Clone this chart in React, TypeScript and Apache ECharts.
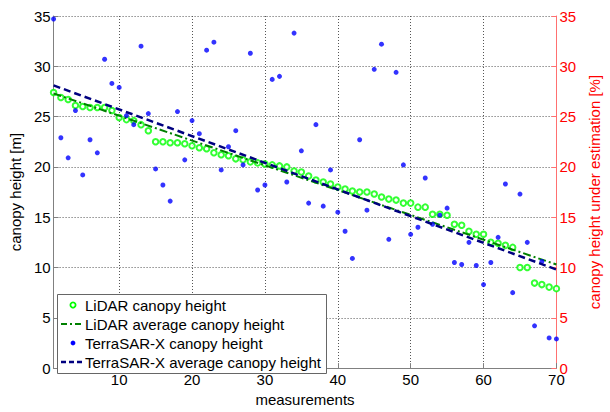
import React, { useEffect, useRef } from "react";
import * as echarts from "echarts";

// LiDAR canopy height per measurement (1..70)
const lidarHeight = [
  27.4, 26.9, 26.7, 26.1, 26.0, 25.9, 25.9, 25.9, 25.6, 24.9,
  24.7, 24.6, 24.2, 23.6, 22.5, 22.5, 22.4, 22.4, 22.3, 22.1,
  21.9, 21.8, 21.4, 21.2, 21.1, 20.8, 20.7, 20.5, 20.4, 20.3,
  20.2, 20.1, 20.0, 19.6, 19.5, 19.1, 18.7, 18.5, 18.3, 18.0,
  17.8, 17.6, 17.5, 17.5, 17.3, 17.0, 16.8, 16.7, 16.4, 16.4,
  16.0, 16.0, 15.3, 15.3, 15.2, 14.3, 14.2, 13.6, 13.3, 13.3,
  12.5, 12.4, 12.2, 12.0, 10.0, 10.0, 8.45, 8.3, 8.05, 7.9,
];

// TerraSAR-X canopy height per measurement (1..70)
const tsxHeight = [
  34.7, 22.9, 20.9, 25.6, 19.2, 22.7, 21.4, 30.7, 28.3, 27.9,
  25.1, 24.2, 32.0, 25.3, 19.8, 18.2, 16.6, 25.5, 20.7, 24.6,
  23.3, 31.6, 32.4, 19.7, 22.0, 23.6, 20.2, 31.3, 17.7, 18.2,
  28.7, 29.0, 18.5, 33.3, 21.6, 16.4, 24.2, 16.1, 19.7, 15.5,
  13.6, 10.9, 22.7, 15.7, 29.7, 32.2, 12.8, 29.4, 20.2, 13.3,
  14.0, 18.9, 14.3, 15.2, 15.9, 10.5, 10.3, 12.5, 10.2, 8.3,
  10.5, 13.0, 18.3, 7.5, 17.3, 12.5, 4.2, 10.6, 3.0, 2.9,
];

// average (fitted) lines: values at first and last measurement
const fitX = [1, 70];
const lidarAvg = [27.3, 10.3];
const tsxAvg = [28.1, 9.8];

const xTicks = [10, 20, 30, 40, 50, 60, 70];

const legendLabels = [
  "LiDAR canopy height",
  "LiDAR average canopy height",
  "TerraSAR-X canopy height",
  "TerraSAR-X average canopy height",
];

const FONT = "Liberation Sans, Arial, sans-serif";

export default function App() {
  const ref = useRef<HTMLDivElement>(null);
  useEffect(() => {
    if (!ref.current) return;
    const chart = echarts.init(ref.current, undefined, { renderer: "svg" });
    const grid = "#555555";
    const axisGray = "#808080";
    const FS = 15;

    // legend drawn with graphic elements
    const lx = 57, ly = 294, lw = 269, lh = 79;
    const rowY = [305, 324, 343, 362];
    const textX = 85;
    const legendGraphic: any[] = [
      {
        type: "rect",
        shape: { x: lx + 0.5, y: ly + 0.5, width: lw, height: lh },
        style: { fill: "#ffffff", stroke: "#666666", lineWidth: 1 },
        z: 100,
      },
      {
        type: "circle",
        shape: { cx: 73, cy: rowY[0], r: 2.6 },
        style: { fill: "#ffffff", stroke: "#00ff00", lineWidth: 1.8 },
        z: 101,
      },
      {
        type: "line",
        shape: { x1: 61, y1: rowY[1], x2: 82, y2: rowY[1] },
        style: { stroke: "#008000", lineWidth: 2, lineDash: [6, 3, 2, 3] },
        z: 101,
      },
      {
        type: "circle",
        shape: { cx: 73, cy: rowY[2], r: 2.4 },
        style: { fill: "#0000ff" },
        z: 101,
      },
      {
        type: "line",
        shape: { x1: 61, y1: rowY[3], x2: 83, y2: rowY[3] },
        style: { stroke: "#000080", lineWidth: 2.5, lineDash: [5, 3] },
        z: 101,
      },
      ...legendLabels.map((t, i) => ({
        type: "text",
        x: textX,
        y: rowY[i],
        style: {
          text: t,
          fill: "#000",
          fontSize: FS,
          fontFamily: FONT,
          verticalAlign: "middle",
          align: "left",
        },
        z: 101,
      })),
    ];

    chart.setOption({
      animation: false,
      backgroundColor: "#ffffff",
      textStyle: { fontFamily: FONT },
      grid: { left: 53, right: 45, top: 16, bottom: 37 },
      graphic: legendGraphic,
      xAxis: {
        type: "value",
        min: 1,
        max: 70,
        name: "measurements",
        nameLocation: "middle",
        nameGap: 20,
        nameTextStyle: { fontSize: FS, color: "#000", fontFamily: FONT },
        axisLine: { lineStyle: { color: axisGray, width: 1 } },
        axisTick: {
          inside: true,
          length: 5,
          lineStyle: { color: axisGray },
          customValues: xTicks,
        },
        axisLabel: {
          fontSize: FS,
          color: "#000",
          margin: 4,
          fontFamily: FONT,
          customValues: xTicks,
        },
        splitLine: {
          show: true,
          lineStyle: { color: grid, type: [1, 2], width: 1 },
        },
      },
      yAxis: [
        {
          type: "value",
          min: 0,
          max: 35,
          interval: 5,
          position: "left",
          name: "canopy height [m]",
          nameLocation: "middle",
          nameGap: 30,
          nameRotate: 90,
          nameTextStyle: { fontSize: FS, color: "#000", fontFamily: FONT },
          axisLine: { show: true, lineStyle: { color: axisGray, width: 1 } },
          axisTick: { show: true, inside: true, length: 5, lineStyle: { color: axisGray } },
          axisLabel: { fontSize: FS, color: "#000", margin: 3, fontFamily: FONT },
          splitLine: {
            show: true,
            lineStyle: { color: grid, type: [1, 2], width: 1 },
          },
        },
        {
          type: "value",
          min: 0,
          max: 35,
          interval: 5,
          position: "right",
          name: "canopy height under estimation [%]",
          nameLocation: "middle",
          nameGap: 25,
          nameRotate: 90,
          nameTextStyle: { fontSize: FS, color: "#ff0000", fontFamily: FONT },
          axisLine: { show: true, lineStyle: { color: "#ff7070", width: 1 } },
          axisTick: { show: true, inside: true, length: 5, lineStyle: { color: "#ff7070" } },
          axisLabel: { fontSize: FS, color: "#ff0000", margin: 3, fontFamily: FONT },
          splitLine: { show: false },
        },
      ],
      series: [
        {
          name: "LiDAR canopy height",
          type: "scatter",
          symbol: "emptyCircle",
          symbolSize: 5.5,
          itemStyle: { color: "#00ff00", borderColor: "#00ff00", borderWidth: 1.8 },
          data: lidarHeight.map((v, i) => [i + 1, v]),
          z: 3,
        },
        {
          name: "LiDAR average canopy height",
          type: "line",
          symbol: "none",
          lineStyle: { color: "#008000", width: 2, type: [8, 3, 2, 3] },
          itemStyle: { color: "#008000" },
          data: fitX.map((x, i) => [x, lidarAvg[i]]),
          z: 4,
        },
        {
          name: "TerraSAR-X canopy height",
          type: "scatter",
          symbol: "circle",
          symbolSize: 5,
          itemStyle: { color: "#0000ff" },
          data: tsxHeight.map((v, i) => [i + 1, v]),
          z: 5,
        },
        {
          name: "TerraSAR-X average canopy height",
          type: "line",
          symbol: "none",
          lineStyle: { color: "#000080", width: 2.5, type: [7, 4] },
          itemStyle: { color: "#000080" },
          data: fitX.map((x, i) => [x, tsxAvg[i]]),
          z: 6,
        },
      ],
    });
    return () => chart.dispose();
  }, []);
  return (
    <div
      ref={ref}
      style={{ position: "absolute", left: 0, top: 0, width: 610, height: 412 }}
    />
  );
}
